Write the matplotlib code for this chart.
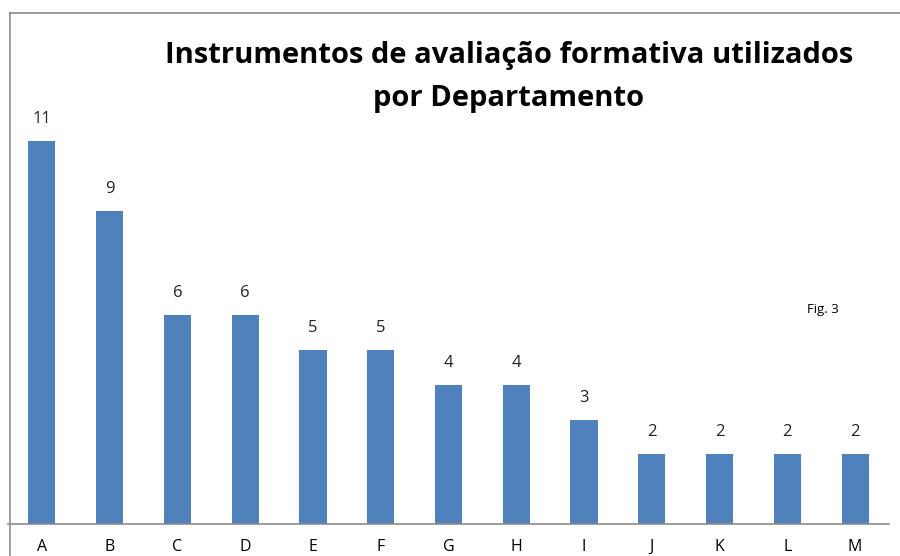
import matplotlib
matplotlib.use("Agg")
import matplotlib.pyplot as plt
from matplotlib.lines import Line2D

departamentos = ["A", "B", "C", "D", "E", "F", "G", "H", "I", "J", "K", "L", "M"]
instrumentos = [11, 9, 6, 6, 5, 5, 4, 4, 3, 2, 2, 2, 2]

plt.rcParams['font.family'] = ['Open Sans', 'DejaVu Sans']

W, H = 900, 556
fig = plt.figure(figsize=(9, 5.56), dpi=100)
# axes area in pixels: left 8, right 889, bottom 524, top 13
ax = fig.add_axes([8 / W, (H - 524) / H, 881 / W, (524 - 13) / H])

x = list(range(len(departamentos)))
bars = ax.bar(x, instrumentos, width=0.4, color="#4F81BD")
for xi, v in zip(x, instrumentos):
    ax.annotate(str(v), (xi, v), xytext=(0, 10), textcoords="offset points",
                ha="center", va="bottom", fontsize=12, color="#222222")

ax.set_xlim(-0.5, 12.5)
ax.set_ylim(0, 14.68)
ax.set_xticks(x)
ax.set_xticklabels(departamentos, fontsize=11.5)
ax.tick_params(axis="x", length=0, pad=11)
ax.set_yticks([])
for s in ["top", "right", "left"]:
    ax.spines[s].set_visible(False)
ax.spines["bottom"].set_color("#8c8c8c")
ax.spines["bottom"].set_linewidth(1.2)

# chart area border (left and top)
fig.add_artist(Line2D([9.5 / W, 9.5 / W], [0, 1 - 13 / H], color="#8c8c8c", lw=1.2))
fig.add_artist(Line2D([9.5 / W, 1], [1 - 13 / H, 1 - 13 / H], color="#8c8c8c", lw=1.2))

fig.text(509 / W, 1 - 77 / H, "Instrumentos de avaliação formativa utilizados\npor Departamento",
         ha="center", va="center", fontsize=21, fontweight="bold", linespacing=1.65)
fig.text(823 / W, 1 - 310 / H, "Fig. 3", ha="center", va="center", fontsize=9.5)

fig.savefig("out.png", dpi=100)
